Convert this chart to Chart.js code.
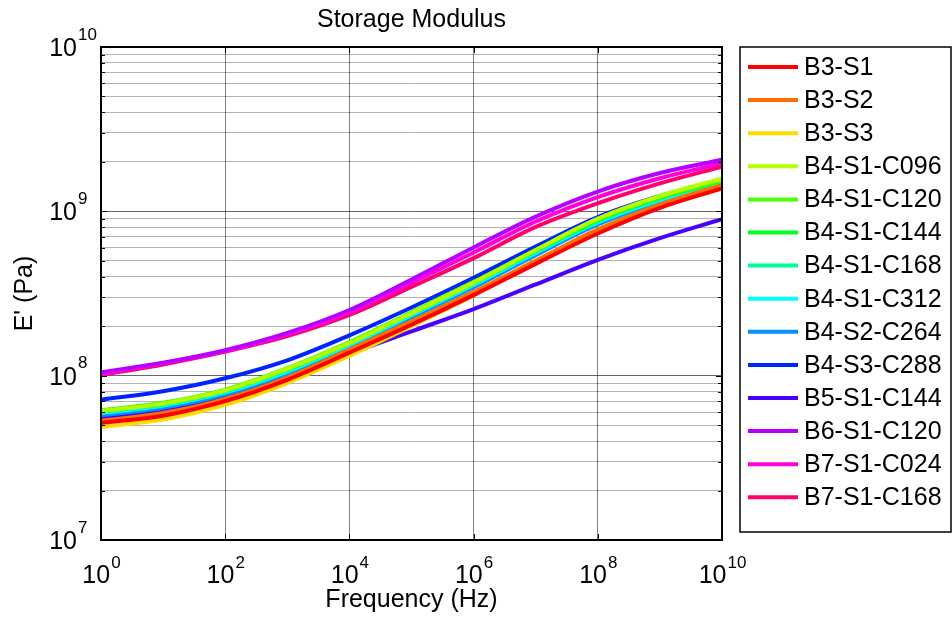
<!DOCTYPE html>
<html><head><meta charset="utf-8">
<script src="https://cdn.jsdelivr.net/npm/chart.js@4.4.1/dist/chart.umd.min.js"></script>
<style>html,body{margin:0;padding:0;background:#fff}#wrap{width:952px;height:617px}</style>
</head><body><div id="wrap"><canvas id="c" width="952" height="617"></canvas></div>
<script>
// ---- data (E' in Pa vs frequency in Hz) ----
const frequency = [1e0, 1e1, 1e2, 1e3, 1e4, 1e5, 1e6, 1e7, 1e8, 1e9, 1e10];
const seriesNames = ['B3-S1','B3-S2','B3-S3','B4-S1-C096','B4-S1-C120','B4-S1-C144','B4-S1-C168','B4-S1-C312','B4-S2-C264','B4-S3-C288','B5-S1-C144','B6-S1-C120','B7-S1-C024','B7-S1-C168'];
const seriesColors = ['#ff0000','#ff6e00','#ffdb00','#b6ff00','#49ff00','#00ff24','#00ff92','#00ffff','#0092ff','#0024ff','#4900ff','#b600ff','#ff00db','#ff006d'];
const b3s1     = [5.16e7, 5.71e7, 7.00e7, 9.44e7, 1.38e8, 2.04e8, 3.09e8, 4.79e8, 7.33e8, 1.05e9, 1.38e9];
const b3s2     = [5.31e7, 5.92e7, 7.21e7, 9.73e7, 1.44e8, 2.14e8, 3.24e8, 5.01e8, 7.76e8, 1.10e9, 1.45e9];
const b3s3     = [4.88e7, 5.41e7, 6.64e7, 9.02e7, 1.32e8, 2.00e8, 3.09e8, 4.95e8, 7.67e8, 1.08e9, 1.43e9];
const b4s1c096 = [6.10e7, 6.76e7, 8.13e7, 1.10e8, 1.58e8, 2.40e8, 3.67e8, 5.82e8, 9.02e8, 1.24e9, 1.58e9];
const b4s1c120 = [6.17e7, 6.84e7, 8.22e7, 1.11e8, 1.60e8, 2.43e8, 3.72e8, 5.82e8, 8.91e8, 1.22e9, 1.55e9];
const b4s1c144 = [6.12e7, 6.79e7, 8.17e7, 1.10e8, 1.59e8, 2.41e8, 3.69e8, 5.78e8, 8.85e8, 1.21e9, 1.54e9];
const b4s1c168 = [6.03e7, 6.68e7, 8.04e7, 1.08e8, 1.57e8, 2.37e8, 3.63e8, 5.69e8, 8.71e8, 1.20e9, 1.52e9];
const b4s1c312 = [5.93e7, 6.58e7, 7.91e7, 1.06e8, 1.54e8, 2.33e8, 3.56e8, 5.58e8, 8.55e8, 1.17e9, 1.50e9];
const b4s2c264 = [5.75e7, 6.38e7, 7.67e7, 1.03e8, 1.49e8, 2.25e8, 3.45e8, 5.41e8, 8.32e8, 1.14e9, 1.42e9];
const b4s3c288 = [7.14e7, 8.04e7, 9.64e7, 1.24e8, 1.76e8, 2.60e8, 3.94e8, 6.10e8, 9.23e8, 1.24e9, 1.55e9];
const b5s1c144 = [5.53e7, 6.14e7, 7.41e7, 9.77e7, 1.36e8, 1.86e8, 2.54e8, 3.59e8, 5.07e8, 6.87e8, 8.97e8];
const b6s1c120 = [1.05e8, 1.20e8, 1.43e8, 1.82e8, 2.51e8, 3.85e8, 6.03e8, 9.29e8, 1.32e9, 1.71e9, 2.06e9];
const b7s1c024 = [1.02e8, 1.19e8, 1.41e8, 1.78e8, 2.43e8, 3.67e8, 5.62e8, 8.67e8, 1.22e9, 1.59e9, 1.96e9];
const b7s1c168 = [1.01e8, 1.17e8, 1.40e8, 1.74e8, 2.34e8, 3.47e8, 5.19e8, 8.04e8, 1.12e9, 1.48e9, 1.87e9];
const seriesValues = [b3s1,b3s2,b3s3,b4s1c096,b4s1c120,b4s1c144,b4s1c168,b4s1c312,b4s2c264,b4s3c288,b5s1c144,b6s1c120,b7s1c024,b7s1c168];

const xTickValues = [1e0, 1e2, 1e4, 1e6, 1e8, 1e10];
const yTickValues = (function(){const t=[];for(let e=7;e<10;e++){for(let k=1;k<10;k++)t.push(k*Math.pow(10,e));}t.push(1e10);return t;})();
const yMajorTicks = [1e7, 1e8, 1e9, 1e10];
const chartTitle = 'Storage Modulus';
const xTitle = 'Frequency (Hz)';
const yTitle = "E' (Pa)";

const FONT = '"Liberation Sans", Arial, Helvetica, sans-serif';
function isMajor(v){const l=Math.log10(v);return Math.abs(l-Math.round(l))<1e-9;}

const datasets = seriesNames.map((name,i)=>({
  label: name,
  data: frequency.map((f,j)=>({x:f,y:seriesValues[i][j]})),
  borderColor: seriesColors[i],
  backgroundColor: seriesColors[i],
  borderWidth: 4,
  pointRadius: 0,
  cubicInterpolationMode: 'monotone',
  fill: false
}));

const decorPlugin = {
  id: 'decor',
  afterDatasetsDraw(chart){
    const ctx = chart.ctx, a = chart.chartArea, xs = chart.scales.x, ys = chart.scales.y;
    ctx.save();
    // tick marks
    ctx.strokeStyle = '#000'; ctx.lineWidth = 1;
    ctx.beginPath();
    xTickValues.forEach(v=>{const px=Math.round(xs.getPixelForValue(v))+0.5;
      ctx.moveTo(px,a.bottom);ctx.lineTo(px,a.bottom-6);ctx.moveTo(px,a.top);ctx.lineTo(px,a.top+6);});
    yTickValues.forEach(v=>{const py=Math.round(ys.getPixelForValue(v))+0.5; const L=isMajor(v)?6:4;
      ctx.moveTo(a.left,py);ctx.lineTo(a.left+L,py);ctx.moveTo(a.right,py);ctx.lineTo(a.right-L,py);});
    ctx.stroke();
    // box
    ctx.lineWidth = 2; ctx.strokeStyle = '#000';
    ctx.strokeRect(a.left, a.top, a.right-a.left, a.bottom-a.top);
    ctx.fillStyle = '#000';
    // x tick labels
    xTickValues.forEach(v=>{
      const px = xs.getPixelForValue(v); const e = String(Math.round(Math.log10(v)));
      ctx.font = '25px '+FONT; const wb = ctx.measureText('10').width;
      ctx.font = '17px '+FONT; const we = ctx.measureText(e).width;
      const x0 = px - (wb+we)/2;
      ctx.textBaseline = 'middle'; ctx.textAlign = 'left';
      ctx.font = '25px '+FONT; ctx.fillText('10', x0, a.bottom+36);
      ctx.font = '17px '+FONT; ctx.fillText(e, x0+wb+1, a.bottom+23);
    });
    // y tick labels
    yMajorTicks.forEach(v=>{
      const py = ys.getPixelForValue(v); const e = String(Math.round(Math.log10(v)));
      ctx.textBaseline = 'middle';
      ctx.font = '25px '+FONT; ctx.textAlign = 'right'; ctx.fillText('10', a.left-24, py+2);
      ctx.font = '17px '+FONT; ctx.textAlign = 'left'; ctx.fillText(e, a.left-23, py-12);
    });
    // titles
    ctx.textAlign = 'center'; ctx.textBaseline = 'middle';
    ctx.font = '25px '+FONT;
    const cx = (a.left+a.right)/2;
    ctx.fillText(chartTitle, cx, 20);
    ctx.fillText(xTitle, cx, 600);
    ctx.save(); ctx.translate(25, (a.top+a.bottom)/2); ctx.rotate(-Math.PI/2);
    ctx.fillText(yTitle, 0, 0); ctx.restore();
    // legend
    const lx = 740, ly = 47, lw = 211, lh = 485;
    ctx.fillStyle = '#fff'; ctx.fillRect(lx, ly, lw, lh);
    ctx.strokeStyle = '#000'; ctx.lineWidth = 1.5; ctx.strokeRect(lx, ly, lw, lh);
    chart.data.datasets.forEach((ds,i)=>{
      const ry = 67 + i*33.1;
      ctx.strokeStyle = ds.borderColor; ctx.lineWidth = 4;
      ctx.beginPath(); ctx.moveTo(748, ry); ctx.lineTo(798, ry); ctx.stroke();
      ctx.fillStyle = '#000'; ctx.font = '25px '+FONT; ctx.textAlign = 'left'; ctx.textBaseline = 'middle';
      ctx.fillText(ds.label, 804, ry+1);
    });
    ctx.restore();
  }
};

new Chart(document.getElementById('c'), {
  type: 'line',
  data: { datasets },
  options: {
    responsive: false, animation: false, devicePixelRatio: 1,
    layout: { padding: { left: 101, right: 230, top: 47, bottom: 77 } },
    plugins: { legend: { display: false }, title: { display: false }, tooltip: { enabled: false } },
    scales: {
      x: {
        type: 'logarithmic', min: 1, max: 1e10,
        afterBuildTicks: s => { s.ticks = xTickValues.map(v=>({value:v})); },
        afterFit: s => { s.height = 0; },
        ticks: { display: false },
        border: { display: false },
        grid: { drawTicks: false, color: 'rgba(0,0,0,0.5)', lineWidth: 1 }
      },
      y: {
        type: 'logarithmic', min: 1e7, max: 1e10,
        afterBuildTicks: s => { s.ticks = yTickValues.map(v=>({value:v})); },
        afterFit: s => { s.width = 0; },
        ticks: { display: false },
        border: { display: false },
        grid: { drawTicks: false, lineWidth: 1,
          color: c => (c.tick && isMajor(c.tick.value)) ? 'rgba(0,0,0,0.6)' : 'rgba(0,0,0,0.3)' }
      }
    }
  },
  plugins: [decorPlugin]
});
</script></body></html>
